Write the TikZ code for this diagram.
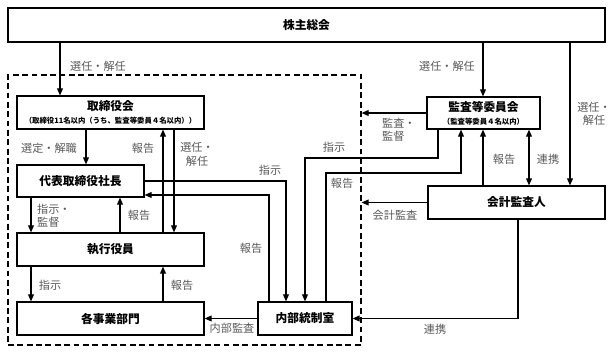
\documentclass[tikz,border=0pt]{standalone}
\usepackage{fontspec}
\setmainfont{Noto Sans CJK JP}
\usetikzlibrary{arrows.meta}
\newcommand{\subfont}{\fontsize{6.3}{7}\selectfont}

\begin{document}
\begin{tikzpicture}[x=0.03cm, y=-0.03cm, >={Triangle[length=6pt,width=5pt]},
  box/.style 2 args={draw, line width=1pt, minimum width=#1*0.03cm, minimum height=#2*0.03cm, inner sep=0pt, align=center, font=\fontsize{10}{12}\selectfont\bfseries},
  lbl/.style={text=black!65, inner sep=0pt, align=center, font=\fontsize{9.5}{11.5}\selectfont},
  arr/.style={line width=1pt, ->},
  dashframe/.style={draw, line width=1pt, dash pattern=on 5pt off 3pt, minimum width=353*0.03cm, minimum height=270*0.03cm}]
\useasboundingbox (0,0) rectangle (615,352);

% frame round the company
\node[dashframe] (frame) at (184.5,210) {};

% boxes
\node[box={597}{34}] (sh) at (306.5,25) {株主総会};
\node[box={187}{33}] (board) at (110.5,112.5) {取締役会\\[-1pt]{\subfont （取締役11名以内（うち、監査等委員４名以内））}};
\node[box={127}{32}] (rep) at (80.5,181) {代表取締役社長};
\node[box={187}{33}] (exec) at (110.5,249.5) {執行役員};
\node[box={187}{33}] (dept) at (110.5,318.5) {各事業部門};
\node[box={94}{33}] (ic) at (305,318.5) {内部統制室};
\node[box={113}{32}] (ac) at (483.5,113) {監査等委員会\\[-1pt]{\subfont （監査等委員４名以内）}};
\node[box={177}{33}] (aa) at (516.5,202.5) {会計監査人};

% columns and bends
\coordinate (selL) at (60,0);
\coordinate (selAc) at (483,0);
\coordinate (selAa) at (570,0);
\coordinate (colRep) at (86,0);
\coordinate (colUp) at (163,0);
\coordinate (colDown) at (174,0);
\coordinate (colLeft) at (31,0);
\coordinate (colRepUp) at (120,0);
\coordinate (colLink) at (529,0);
\coordinate (repIc) at (286,0);
\coordinate (icRep) at (269,195);
\coordinate (acIcA) at (438,158);
\coordinate (acIcB) at (305,0);
\coordinate (icAcA) at (326,0);
\coordinate (icAcB) at (461,173);
\coordinate (aaIc) at (518,0);

% connectors
\draw[arr] (sh.south -| selL) -- (board.north -| selL);
\draw[arr] (sh.south -| selAc) -- (ac.north -| selAc);
\draw[arr] (sh.south -| selAa) -- (aa.north -| selAa);
\draw[arr] (board.south -| colRep) -- (rep.north -| colRep);
\draw[arr] (exec.north -| colUp) -- (board.south -| colUp);
\draw[arr] (board.south -| colDown) -- (exec.north -| colDown);
\draw[arr] (rep.south -| colLeft) -- (exec.north -| colLeft);
\draw[arr] (exec.north -| colRepUp) -- (rep.south -| colRepUp);
\draw[arr] (exec.south -| colLeft) -- (dept.north -| colLeft);
\draw[arr] (dept.north -| colUp) -- (exec.south -| colUp);
\draw[arr] (ic.west) -- (dept.east);
\draw[arr] (rep.east) -| (ic.north -| repIc);
\draw[arr] (ic.north -| icRep) |- (rep.east |- icRep);
\draw[arr] (ac.south -| acIcA) -- (acIcA) -| (ic.north -| acIcB);
\draw[arr] (ic.north -| icAcA) |- (icAcB) -- (ac.south -| icAcB);
\draw[arr] (ac.west) -- (ac.west -| frame.east);
\draw[arr] (aa.north -| selAc) -- (ac.south -| selAc);
\draw[line width=1pt, <->] (aa.north -| colLink) -- (ac.south -| colLink);
\draw[arr] (aa.west) -- (aa.west -| frame.east);
\draw[arr] (aa.south -| aaIc) |- (ic.east);

% labels
\node[lbl] (lSelL) at (98,66) {選任・解任};
\node[lbl] (lSelAc) at (447,66) {選任・解任};
\node[lbl] (lSelAa) at (594,114) {選任・\\解任};
\node[lbl] (lRep) at (49,148) {選定・解職};
\node[lbl] (lBoardUp) at (143,148) {報告};
\node[lbl] (lBoardDown) at (197,154.5) {選任・\\解任};
\node[lbl, align=left, anchor=west] (lRepExec) at (37,216) {指示・\\監督};
\node[lbl] (lExecRep) at (139,215) {報告};
\node[lbl] (lExecDept) at (50,285) {指示};
\node[lbl] (lDeptExec) at (182,285) {報告};
\node[lbl] (lAudit) at (232,328) {内部監査};
\node[lbl] (lRepIc) at (270,170) {指示};
\node[lbl] (lIcRep) at (251,248) {報告};
\node[lbl] (lAcIc) at (334,147) {指示};
\node[lbl] (lIcAc) at (342,183) {報告};
\node[lbl, align=left, anchor=west] (lAcFrame) at (382,130) {監査・\\監督};
\node[lbl] (lAaAc) at (504,159) {報告};
\node[lbl] (lLink) at (548,159) {連携};
\node[lbl] (lAaFrame) at (395,215) {会計監査};
\node[lbl] (lAaIc) at (435,329) {連携};
\end{tikzpicture}
\end{document}
